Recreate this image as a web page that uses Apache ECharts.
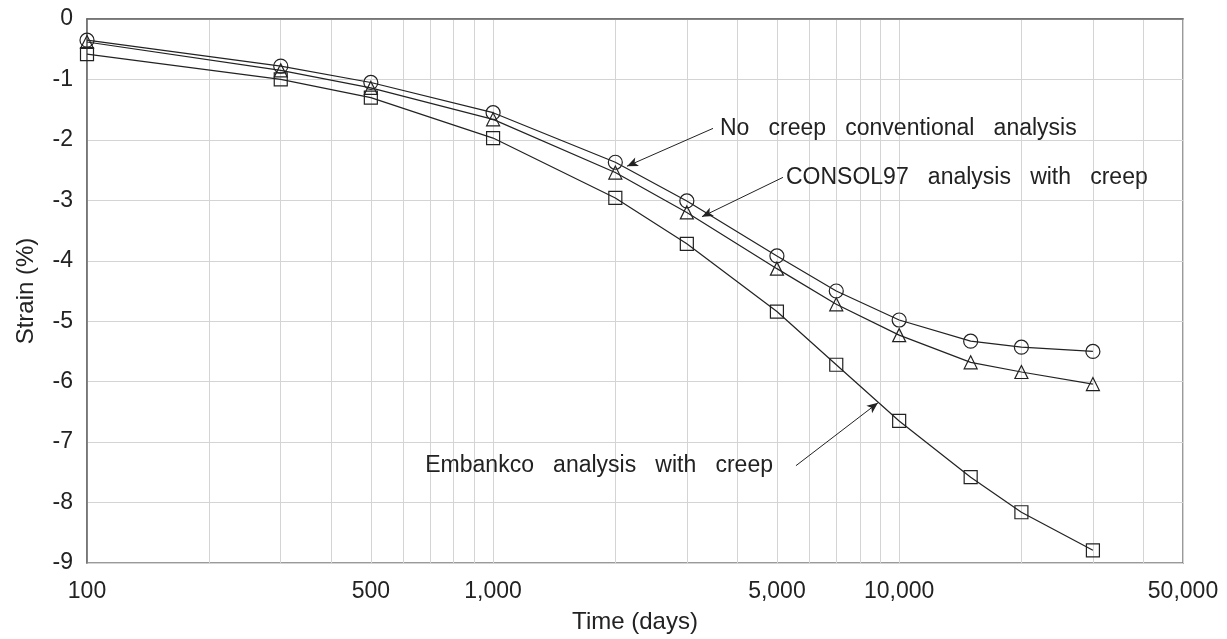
<!DOCTYPE html>
<html>
<head>
<meta charset="utf-8">
<title>Strain vs time</title>
<script src="https://cdn.jsdelivr.net/npm/echarts@6/dist/echarts.min.js"></script>
<style>
  html, body { margin: 0; padding: 0; background: #fff; }
  #chart { width: 1227px; height: 639px; }
</style>
</head>
<body>
<div id="chart"></div>
<script>
// Time (days) at which strain was computed
const timeDays = [100, 300, 500, 1000, 2000, 3000, 5000, 7000, 10000, 15000, 20000, 30000];

// Strain (%) for each analysis
const noCreep  = [-0.35, -0.78, -1.05, -1.55, -2.37, -3.01, -3.92, -4.50, -4.98, -5.33, -5.43, -5.50];
const consol97 = [-0.38, -0.85, -1.14, -1.66, -2.54, -3.20, -4.13, -4.72, -5.23, -5.68, -5.84, -6.04];
const embankco = [-0.58, -1.00, -1.30, -1.97, -2.96, -3.72, -4.84, -5.72, -6.65, -7.58, -8.16, -8.79];

// Labelled ticks on the log time axis and the full set of grid lines
const xTickLabels = [100, 500, 1000, 5000, 10000, 50000];
const xGridValues = [100, 200, 300, 400, 500, 600, 700, 800, 900,
                     1000, 2000, 3000, 4000, 5000, 6000, 7000, 8000, 9000,
                     10000, 20000, 30000, 40000, 50000];

// Callout text with arrow tail [time, strain] and arrow head [time, strain]
const calloutText = ['No   creep   conventional   analysis',
                     'CONSOL97   analysis   with   creep',
                     'Embankco   analysis   with   creep'];
const calloutTail = [[3480, -1.81], [5175, -2.62], [5570, -7.39]];
const calloutHead = [[2137, -2.435], [3269, -3.27], [8867, -6.35]];

const INK = '#222';
const FONT = 'Liberation Sans, Arial, Helvetica, sans-serif';

function pairs(ys) {
  return timeDays.map((t, i) => [t, ys[i]]);
}

function fmtThousands(v) {
  return String(Math.round(v)).replace(/\B(?=(\d{3})+(?!\d))/g, ',');
}

function callout(i, side, dist) {
  return {
    markLine: {
      silent: true,
      symbol: ['none', 'arrow'],
      symbolSize: 10,
      itemStyle: { color: INK },
      lineStyle: { color: INK, width: 1, type: 'solid', opacity: 1 },
      label: { show: false },
      emphasis: { disabled: true },
      data: [[
        { coord: calloutTail[i], symbol: 'none' },
        { coord: calloutHead[i], symbol: 'arrow', symbolSize: [7, 11] }
      ]]
    },
    markPoint: {
      silent: true,
      symbol: 'circle',
      symbolSize: 0,
      label: {
        show: true,
        position: side,
        distance: dist,
        formatter: calloutText[i],
        color: INK,
        fontFamily: FONT,
        fontSize: 23
      },
      data: [{ coord: calloutTail[i] }]
    }
  };
}

function lineSeries(name, ys, symbol, size, extra) {
  return Object.assign({
    name: name,
    type: 'line',
    data: pairs(ys),
    symbol: symbol,
    symbolSize: size,
    showSymbol: true,
    clip: false,
    lineStyle: { color: INK, width: 1.2 },
    itemStyle: { color: 'rgba(0,0,0,0)', borderColor: INK, borderWidth: 1.2 },
    emphasis: { disabled: true },
    animation: false
  }, extra);
}

const chart = echarts.init(document.getElementById('chart'), null, { renderer: 'canvas' });

chart.setOption({
  backgroundColor: '#fff',
  animation: false,
  grid: {
    left: 87, right: 44, top: 19, bottom: 73,
    show: true,
    borderColor: '#7a7a7a',
    borderWidth: 1.5,
    containLabel: false
  },
  xAxis: {
    type: 'log',
    logBase: 10,
    min: 100,
    max: 50000,
    name: 'Time (days)',
    nameLocation: 'middle',
    nameGap: 47,
    nameTextStyle: { color: INK, fontFamily: FONT, fontSize: 24 },
    axisLine: { show: true, lineStyle: { color: '#6a6a6a', width: 1.5 } },
    axisTick: { show: false, customValues: xGridValues },
    axisLabel: {
      customValues: xTickLabels,
      margin: 17,
      color: INK,
      fontFamily: FONT,
      fontSize: 23,
      formatter: fmtThousands
    },
    splitLine: { show: true, lineStyle: { color: '#d4d4d4', width: 1 } },
    minorSplitLine: { show: false }
  },
  yAxis: {
    type: 'value',
    min: -9,
    max: 0,
    interval: 1,
    name: 'Strain (%)',
    nameLocation: 'middle',
    nameGap: 49,
    nameTextStyle: { color: INK, fontFamily: FONT, fontSize: 24 },
    axisLine: { show: true, lineStyle: { color: '#6a6a6a', width: 1.5 } },
    axisTick: { show: false },
    axisLabel: { margin: 14, color: INK, fontFamily: FONT, fontSize: 23 },
    splitLine: { show: true, lineStyle: { color: '#d4d4d4', width: 1 } }
  },
  series: [
    lineSeries('No creep conventional analysis', noCreep, 'circle', 14, callout(0, 'right', 7)),
    lineSeries('CONSOL97 analysis with creep', consol97, 'triangle', 13, callout(1, 'right', 3)),
    lineSeries('Embankco analysis with creep', embankco, 'rect', 13, callout(2, 'left', 23))
  ]
});
</script>
</body>
</html>
